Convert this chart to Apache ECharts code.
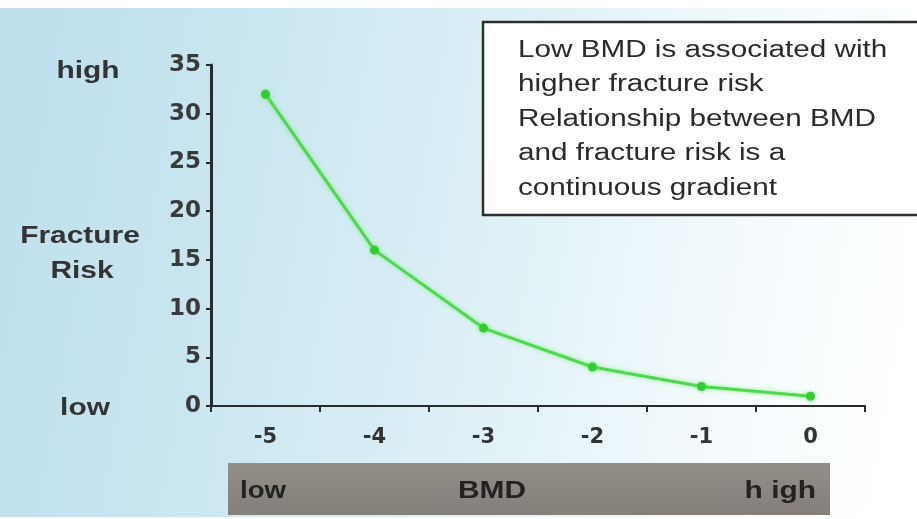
<!DOCTYPE html>
<html>
<head>
<meta charset="utf-8">
<script src="https://cdn.jsdelivr.net/npm/echarts@6/dist/echarts.min.js"></script>
<style>
  html, body { margin: 0; padding: 0; background: #ffffff; }
  #wrap { position: relative; width: 917px; height: 519px; background: #ffffff; }
  #bg { position: absolute; left: 0; top: 8px; width: 905px; height: 509px;
        background: linear-gradient(100deg, #bddfec 0%, #c9e6f0 25%, #dbeff6 50%, #eef8fb 72%, #fbfeff 90%, #ffffff 100%); }
  #chart { position: absolute; left: 0; top: 0; width: 917px; height: 519px; }
</style>
</head>
<body>
<div id="wrap"><div id="bg"></div><div id="chart"></div></div>
<script>
const categories = ['-5', '-4', '-3', '-2', '-1', '0'];
const risk = [32, 16, 8, 4, 2, 1];
const yMin = 0, yMax = 35, yStep = 5;
const leftLabels = ['high', 'Fracture', 'Risk', 'low'];
const bandLabels = ['low', 'BMD', 'h igh'];
const noteLines = [
  'Low BMD is associated with',
  'higher fracture risk',
  'Relationship between BMD',
  'and fracture risk is a',
  'continuous gradient'
];

const chart = echarts.init(document.getElementById('chart'), null, { renderer: 'canvas' });
const txtFont = '"Liberation Sans", Arial, sans-serif';
const dark = '#333333';

const option = {
  backgroundColor: 'transparent',
  animation: false,
  grid: { left: 211, right: 52, top: 65, bottom: 113 },
  xAxis: {
    type: 'category',
    data: categories,
    boundaryGap: true,
    axisLine: { lineStyle: { color: '#2b2b2b', width: 2 } },
    axisTick: { show: true, alignWithLabel: false, length: 6, lineStyle: { color: '#2b2b2b', width: 2 } },
    axisLabel: { margin: 21, color: '#333', fontSize: 21, fontWeight: 'bold', fontFamily: '"DejaVu Sans", sans-serif' },
    splitLine: { show: false }
  },
  yAxis: {
    type: 'value',
    min: yMin, max: yMax, interval: yStep,
    axisLine: { show: true, lineStyle: { color: '#2b2b2b', width: 3 } },
    axisTick: { show: true, length: 5, lineStyle: { color: '#2b2b2b', width: 2 } },
    axisLabel: { margin: 10, color: '#3a3a3a', fontSize: 23, fontWeight: 'bold', fontFamily: '"DejaVu Sans", sans-serif' },
    splitLine: { show: false }
  },
  series: [{
    type: 'line',
    data: risk,
    smooth: false,
    symbol: 'circle',
    symbolSize: 9,
    lineStyle: { color: '#4fd84f', width: 3, shadowColor: 'rgba(90,240,90,0.7)', shadowBlur: 4 },
    itemStyle: { color: '#33cc33', shadowColor: 'rgba(90,240,90,0.8)', shadowBlur: 4 },
    z: 3
  }],
  graphic: [
    // note box
    { type: 'rect', shape: { x: 483, y: 22, width: 450, height: 193 },
      style: { fill: '#ffffff', stroke: '#2e2e2e', lineWidth: 2.5 }, z: 10 },
    { type: 'text', x: 518, y: 33, scaleX: 1.29, z: 11,
      style: { text: noteLines.join('\n'), font: '23px ' + txtFont, fill: '#2a2a2a', lineHeight: 34.5, textAlign: 'left', textVerticalAlign: 'top' } },
    // left labels
    { type: 'text', x: 88, y: 72, scaleX: 1.3, z: 11,
      style: { text: leftLabels[0], font: 'bold 23px ' + txtFont, fill: dark, textAlign: 'center', textVerticalAlign: 'middle' } },
    { type: 'text', x: 80, y: 237, scaleX: 1.3, z: 11,
      style: { text: leftLabels[1], font: 'bold 23px ' + txtFont, fill: dark, textAlign: 'center', textVerticalAlign: 'middle' } },
    { type: 'text', x: 82, y: 272, scaleX: 1.3, z: 11,
      style: { text: leftLabels[2], font: 'bold 23px ' + txtFont, fill: dark, textAlign: 'center', textVerticalAlign: 'middle' } },
    { type: 'text', x: 85, y: 409, scaleX: 1.3, z: 11,
      style: { text: leftLabels[3], font: 'bold 23px ' + txtFont, fill: dark, textAlign: 'center', textVerticalAlign: 'middle' } },
    // BMD band
    { type: 'rect', shape: { x: 228, y: 463, width: 602, height: 52 },
      style: { fill: new echarts.graphic.LinearGradient(0, 0, 0, 1, [
        { offset: 0, color: '#938e88' }, { offset: 1, color: '#857f79' }]) }, z: 10 },
    { type: 'text', x: 240, y: 492, scaleX: 1.2, z: 11,
      style: { text: bandLabels[0], font: 'bold 23px ' + txtFont, fill: '#222', textAlign: 'left', textVerticalAlign: 'middle' } },
    { type: 'text', x: 492, y: 492, scaleX: 1.3, z: 11,
      style: { text: bandLabels[1], font: 'bold 23px ' + txtFont, fill: '#222', textAlign: 'center', textVerticalAlign: 'middle' } },
    { type: 'text', x: 816, y: 492, scaleX: 1.3, z: 11,
      style: { text: bandLabels[2], font: 'bold 23px ' + txtFont, fill: '#222', textAlign: 'right', textVerticalAlign: 'middle' } }
  ]
};
chart.setOption(option);
</script>
</body>
</html>
